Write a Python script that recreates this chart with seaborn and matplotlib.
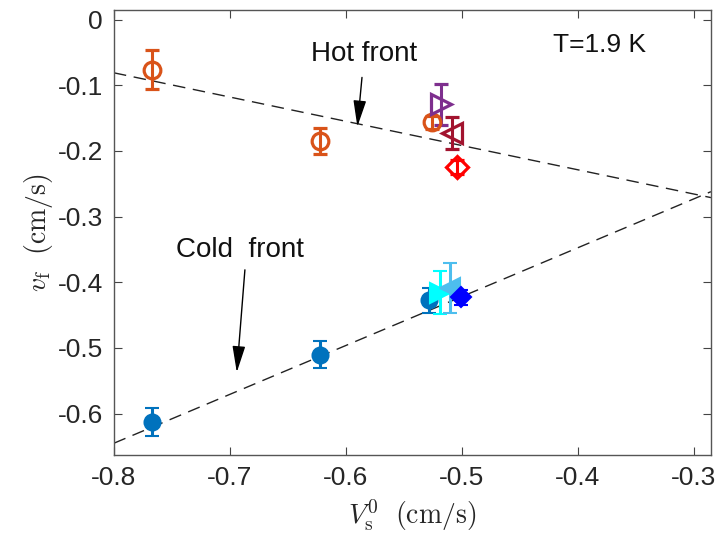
import matplotlib
matplotlib.use("Agg")
import matplotlib.pyplot as plt
import seaborn as sns
import pandas as pd

# ---- data ----
hot_vs = [-0.767, -0.622, -0.526, -0.518, -0.508, -0.504]
hot_vf = [-0.076, -0.185, -0.156, -0.129, -0.173, -0.224]
hot_err = [0.030, 0.020, 0.010, 0.031, 0.024, 0.011]
hot_markers = ["o", "o", "o", ">", "<", "D"]
hot_colors = ["#D95319", "#D95319", "#D95319", "#7E2F8E", "#A2142F", "#FF0000"]

cold_vs = [-0.767, -0.622, -0.528, -0.519, -0.510, -0.501]
cold_vf = [-0.613, -0.510, -0.427, -0.416, -0.409, -0.423]
cold_err = [0.021, 0.021, 0.019, 0.033, 0.038, 0.012]
cold_markers = ["o", "o", "o", ">", "<", "D"]
cold_colors = ["#0072BD", "#0072BD", "#0072BD", "#00FFFF", "#4DBEEE", "#0000FF"]

hot_line_x = [-0.80, -0.285]
hot_line_y = [-0.081, -0.271]
cold_line_x = [-0.80, -0.285]
cold_line_y = [-0.645, -0.262]

x_ticks = [-0.8, -0.7, -0.6, -0.5, -0.4, -0.3]
y_ticks = [0, -0.1, -0.2, -0.3, -0.4, -0.5, -0.6]

sns.set_theme(style="ticks")
plt.rcParams["font.family"] = ["Liberation Sans", "DejaVu Sans"]
plt.rcParams["mathtext.fontset"] = "cm"
plt.rcParams["axes.unicode_minus"] = False

fig = plt.figure(figsize=(7.21, 5.43), dpi=100)
ax = fig.add_axes([0.158, 0.162, 0.828, 0.820])

lines = pd.DataFrame({
    "x": hot_line_x + cold_line_x,
    "y": hot_line_y + cold_line_y,
    "front": ["hot"] * 2 + ["cold"] * 2,
})
sns.lineplot(data=lines, x="x", y="y", units="front", estimator=None,
             color="#222222", lw=1.0, ax=ax, legend=False, zorder=1)
for l in ax.get_lines():
    l.set_dashes([9, 5.5])

for x, y, e, m, c in zip(hot_vs, hot_vf, hot_err, hot_markers, hot_colors):
    ax.errorbar(x, y, yerr=e, fmt=m, mfc="none", mec=c, color=c,
                ms={"o": 12, ">": 14, "<": 14, "D": 11}[m], mew=2.3,
                elinewidth=2.2, capsize=5, capthick=2.2, zorder=3)

for x, y, e, m, c in zip(cold_vs, cold_vf, cold_err, cold_markers, cold_colors):
    ax.errorbar(x, y, yerr=e, fmt=m, mfc=c, mec=c, color=c,
                ms={"o": 11.5, ">": 14, "<": 14, "D": 10}[m], mew=1.5,
                elinewidth=2.2, capsize=5, capthick=2.2, zorder=3)

ax.set_xlim(-0.8, -0.285)
ax.set_ylim(-0.663, 0.015)
ax.set_xticks(x_ticks)
ax.set_xticklabels([f"{v:g}" for v in x_ticks])
ax.set_yticks(y_ticks)
ax.set_yticklabels([f"{v:g}" for v in y_ticks])

ax.tick_params(direction="in", length=6, width=0.8, top=True, right=True,
               labelsize=19, colors="#444444", labelcolor="#262626", pad=8)
for s in ax.spines.values():
    s.set_visible(True)
    s.set_color("#555555")
    s.set_linewidth(1.0)

ax.set_xlabel(r"$V_{\mathrm{s}}^{0}\ \ (\mathrm{cm/s})$", fontsize=20,
              color="#262626", labelpad=5)
ax.set_ylabel(r"$v_{\mathrm{f}}\ \ (\mathrm{cm/s})$", fontsize=20,
              color="#262626", labelpad=2)

arrow = dict(arrowstyle="-|>,head_length=0.9,head_width=0.22", color="black",
             lw=1.0, mutation_scale=18, shrinkA=0, shrinkB=0)
ax.annotate("", xy=(-0.590, -0.163), xytext=(-0.586, -0.088),
            arrowprops=arrow)
ax.text(-0.584, -0.053, "Hot front", fontsize=20, ha="center", va="center",
        color="#111111")
ax.annotate("", xy=(-0.694, -0.537), xytext=(-0.687, -0.381),
            arrowprops=arrow)
ax.text(-0.691, -0.351, "Cold  front", fontsize=20, ha="center",
        va="center", color="#111111")
ax.text(-0.381, -0.038, "T=1.9 K", fontsize=19, ha="center", va="center",
        color="#111111")

fig.savefig("out.png", dpi=100)
